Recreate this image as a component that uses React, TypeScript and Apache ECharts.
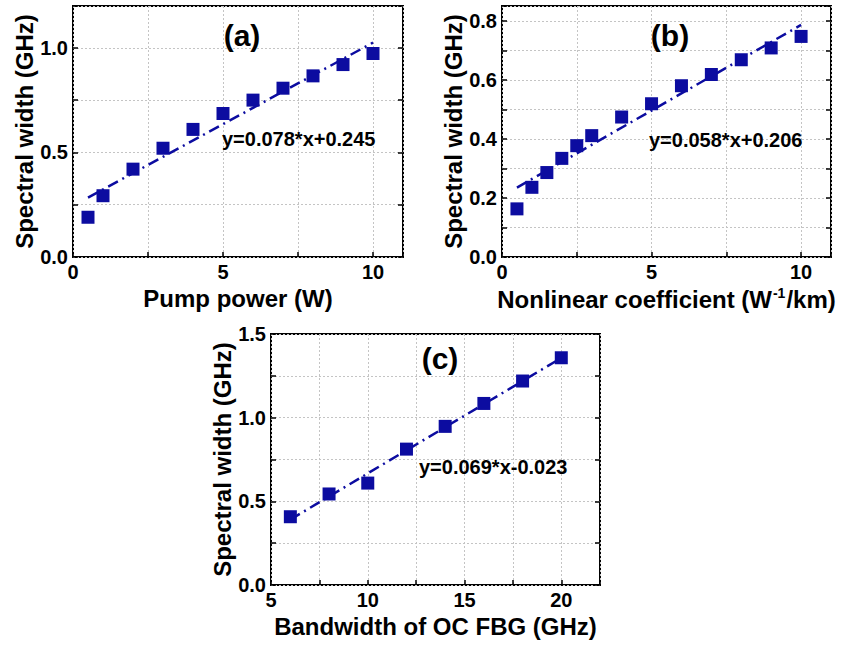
import React, { useEffect, useRef } from 'react';
import * as echarts from 'echarts';

const FONT = '"Liberation Sans", Arial, Helvetica, sans-serif';
const BLUE = '#0c0ca0';

// Panel (a): Pump power (W)
const xA = [0.5, 1, 2, 3, 4, 5, 6, 7, 8, 9, 10];
const yA = [0.19, 0.293, 0.42, 0.52, 0.61, 0.686, 0.75, 0.807, 0.866, 0.92, 0.973];
const fitAx = [0.5, 10];
const fitAy = [0.284, 1.025];

// Panel (b): Nonlinear coefficient (W^-1/km)
const xB = [0.5, 1, 1.5, 2, 2.5, 3, 4, 5, 6, 7, 8, 9, 10];
const yB = [0.163, 0.236, 0.286, 0.334, 0.377, 0.411, 0.474, 0.519, 0.58, 0.618, 0.668, 0.708, 0.747];
const fitBx = [0.5, 10];
const fitBy = [0.235, 0.786];

// Panel (c): Bandwidth of OC FBG (GHz)
const xC = [6, 8, 10, 12, 14, 16, 18, 20];
const yC = [0.408, 0.544, 0.609, 0.812, 0.948, 1.085, 1.219, 1.358];
const fitCx = [6, 20];
const fitCy = [0.391, 1.357];

const panelLabels = ['(a)', '(b)', '(c)'];
const equations = ['y=0.078*x+0.245', 'y=0.058*x+0.206', 'y=0.069*x-0.023'];
const xNames = ['Pump power (W)', '{n|Nonlinear coefficient (W}{s|-1}{n|/km)}', 'Bandwidth of OC FBG (GHz)'];
const yName = 'Spectral width (GHz)';

const zip = (xs: number[], ys: number[]) => xs.map((x, i) => [x, ys[i]]);

const isMult = (v: number, step: number) => Math.abs(v / step - Math.round(v / step)) < 1e-6;

const splitLine = { show: true, lineStyle: { type: [2, 2] as any, color: '#c4c4c4', width: 1 } };

function xAxis(grid: number, min: number, max: number, name: string, rich = false) {
  const nameStyle: any = { fontSize: 24, fontWeight: 'bold', color: '#000', fontFamily: FONT };
  if (rich) {
    nameStyle.rich = {
      n: { fontSize: 24, fontWeight: 'bold', color: '#000', fontFamily: FONT },
      s: { fontSize: 14, fontWeight: 'bold', color: '#000', fontFamily: FONT, verticalAlign: 'top', padding: [0, 1, 12, 1] },
    };
  }
  return {
    type: 'value', gridIndex: grid, min, max, interval: 2.5,
    name, nameLocation: 'middle', nameGap: 29, nameTextStyle: nameStyle,
    axisLine: { show: false },
    axisTick: { show: true, inside: true, length: 5, lineStyle: { color: '#000', width: 1.5 } },
    axisLabel: {
      margin: 5, fontSize: 20, fontWeight: 'bold', color: '#000', fontFamily: FONT,
      formatter: (v: number) => (isMult(v, 5) ? String(Math.round(v)) : ''),
    },
    splitLine,
  };
}

function yAxes(grid: number, max: number, interval: number, labelStep: number) {
  return [
    {
      type: 'value', gridIndex: grid, min: 0, max, interval, position: 'left',
      name: yName, nameLocation: 'middle', nameGap: 37,
      nameTextStyle: { fontSize: 24, fontWeight: 'bold', color: '#000', fontFamily: FONT },
      axisLine: { show: false },
      axisTick: { show: true, inside: true, length: 5, lineStyle: { color: '#000', width: 1.5 } },
      axisLabel: {
        margin: 5, fontSize: 20, fontWeight: 'bold', color: '#000', fontFamily: FONT,
        formatter: (v: number) => (isMult(v, labelStep) ? v.toFixed(1) : ''),
      },
      splitLine,
    },
    {
      type: 'value', gridIndex: grid, min: 0, max, interval, position: 'right',
      axisLine: { show: false },
      axisTick: { show: true, inside: true, length: 5, lineStyle: { color: '#000', width: 1.5 } },
      axisLabel: { show: false },
      splitLine: { show: false },
    },
  ];
}

function scatter(idx: number, xs: number[], ys: number[]) {
  return {
    type: 'scatter', xAxisIndex: idx, yAxisIndex: idx * 2, symbol: 'rect', symbolSize: 13,
    itemStyle: { color: BLUE, opacity: 1 }, data: zip(xs, ys), z: 3,
  };
}

function fit(idx: number, xs: number[], ys: number[]) {
  return {
    type: 'line', xAxisIndex: idx, yAxisIndex: idx * 2, showSymbol: false, symbol: 'none',
    lineStyle: { color: BLUE, width: 2.5, type: [11, 5, 2, 5] as any }, data: zip(xs, ys), z: 2,
  };
}

function text(t: string, x: number, y: number, size: number, align = 'center') {
  return {
    type: 'text', x, y, z: 10,
    style: { text: t, fill: '#000', font: `bold ${size}px ${FONT}`, align, verticalAlign: 'middle' },
  };
}

export default function App() {
  const ref = useRef<HTMLDivElement>(null);
  useEffect(() => {
    if (!ref.current) return;
    const chart = echarts.init(ref.current, undefined, { renderer: 'svg' });
    const gridBase = { show: true, borderColor: '#000', borderWidth: 2, backgroundColor: 'transparent', containLabel: false };
    chart.setOption({
      animation: false,
      backgroundColor: '#fff',
      grid: [
        { ...gridBase, left: 73, top: 6, width: 330, height: 251 },
        { ...gridBase, left: 502, top: 6, width: 329, height: 251 },
        { ...gridBase, left: 271, top: 334, width: 329, height: 251 },
      ],
      xAxis: [
        xAxis(0, 0, 11, xNames[0]),
        xAxis(1, 0, 11, xNames[1], true),
        xAxis(2, 5, 22, xNames[2]),
      ],
      yAxis: [...yAxes(0, 1.2, 0.25, 0.5), ...yAxes(1, 0.85, 0.1, 0.2), ...yAxes(2, 1.5, 0.25, 0.5)],
      series: [
        fit(0, fitAx, fitAy), scatter(0, xA, yA),
        fit(1, fitBx, fitBy), scatter(1, xB, yB),
        fit(2, fitCx, fitCy), scatter(2, xC, yC),
      ],
      graphic: [
        text(panelLabels[0], 242, 35, 30),
        text(panelLabels[1], 670, 35, 30),
        text(panelLabels[2], 440, 358, 30),
        text(equations[0], 222, 139, 20, 'left'),
        text(equations[1], 649, 140, 20, 'left'),
        text(equations[2], 419, 467, 20, 'left'),
      ],
    });
    return () => chart.dispose();
  }, []);
  return <div ref={ref} style={{ position: 'absolute', left: 0, top: 0, width: 842, height: 645 }} />;
}
